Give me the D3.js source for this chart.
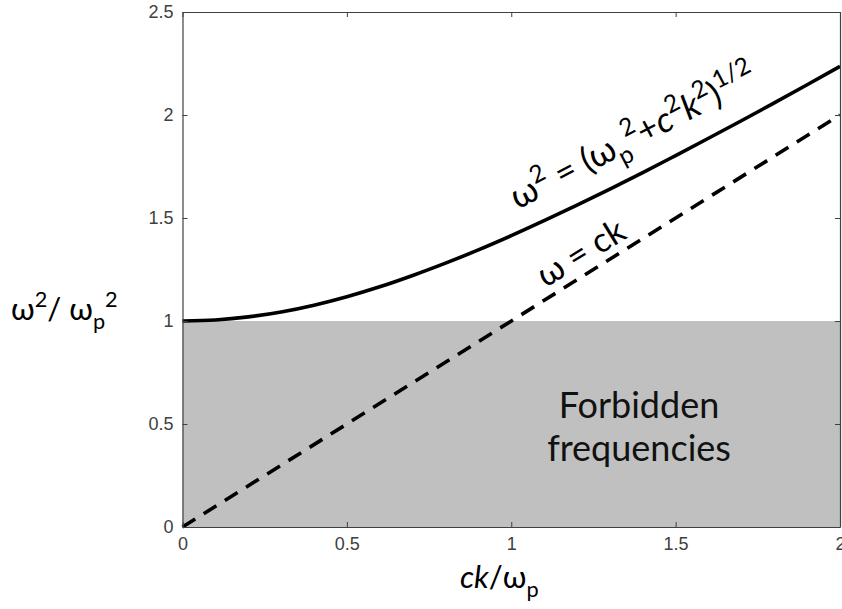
<!DOCTYPE html>
<html><head><meta charset="utf-8">
<script src="https://cdn.jsdelivr.net/npm/d3@7"></script>
<style>body{margin:0;background:#fff}svg{display:block}</style>
</head><body><svg id="c" width="842" height="609"></svg>
<script>
// data
const ckValues   = [0,0.1,0.2,0.3,0.4,0.5,0.6,0.7,0.8,0.9,1.0,1.1,1.2,1.3,1.4,1.5,1.6,1.7,1.8,1.9,2.0];
const omegaCurve = [1.00,1.005,1.02,1.044,1.077,1.118,1.166,1.221,1.281,1.345,1.414,1.487,1.562,1.640,1.720,1.803,1.887,1.972,2.059,2.147,2.236];
const lightLineX = [0,2];
const lightLineY = [0,2];
const forbiddenBand = [0,1];
const xTicks = [0,0.5,1,1.5,2];
const yTicks = [0,0.5,1,1.5,2,2.5];

const svg = d3.select('#c');
const L=182.5,R=840,T=12,B=527;
const x = d3.scaleLinear().domain([0,2]).range([L,R]);
const y = d3.scaleLinear().domain([0,2.5]).range([B,T]);
const fmt = d => String(d);

// forbidden band
svg.append('rect').attr('x',x(0)).attr('y',y(forbiddenBand[1]))
  .attr('width',x(2)-x(0)).attr('height',y(forbiddenBand[0])-y(forbiddenBand[1]))
  .attr('fill','#c0c0c0');

// lines
const line = d3.line().x(d=>x(d[0])).y(d=>y(d[1])).curve(d3.curveMonotoneX);
svg.append('path').datum(ckValues.map((v,i)=>[v,omegaCurve[i]]))
  .attr('d',line).attr('fill','none').attr('stroke','#000').attr('stroke-width',3.6);
svg.append('path').datum(lightLineX.map((v,i)=>[v,lightLineY[i]]))
  .attr('d',d3.line().x(d=>x(d[0])).y(d=>y(d[1])))
  .attr('fill','none').attr('stroke','#000').attr('stroke-width',3.6)
  .attr('stroke-dasharray','15,10');

// axes (MATLAB-like box with inward ticks)
const axColor='#404040';
const tickFamily = 'Liberation Sans, Arial, sans-serif';
const gB = svg.append('g').attr('transform',`translate(0,${B})`)
  .call(d3.axisBottom(x).tickValues(xTicks).tickFormat(fmt).tickSizeInner(-5).tickSizeOuter(0).tickPadding(10));
const gL = svg.append('g').attr('transform',`translate(${L},0)`)
  .call(d3.axisLeft(y).tickValues(yTicks).tickFormat(fmt).tickSizeInner(-5).tickSizeOuter(0).tickPadding(9));
const gT = svg.append('g').attr('transform',`translate(0,${T})`)
  .call(d3.axisTop(x).tickValues(xTicks).tickFormat('').tickSizeInner(-5).tickSizeOuter(0));
const gR = svg.append('g').attr('transform',`translate(${R},0)`)
  .call(d3.axisRight(y).tickValues(yTicks).tickFormat('').tickSizeInner(-5).tickSizeOuter(0));
[gB,gL,gT,gR].forEach(g=>{
  g.attr('font-size',null).attr('font-family',null);
  g.select('.domain').attr('stroke',axColor).attr('stroke-width',1.2);
  g.selectAll('.tick line').attr('stroke',axColor);
  g.selectAll('text').attr('fill',axColor).style('font-family',tickFamily).style('font-size','18px');
});

const F = 'Lato, "Open Sans", sans-serif';
function rich(parent, parts, size){
  const t = parent;
  let shift = 0;
  parts.forEach(p=>{
    const s = t.append('tspan').text(p.t);
    let target = 0, fs = size;
    if(p.sup){target=-0.42*size; fs=size*0.7;}
    if(p.sub){target=0.28*size; fs=size*0.7;}
    s.attr('dy', target-shift).style('font-size',fs+'px');
    if(p.i) s.style('font-style','italic');
    shift = target;
  });
}

// curve annotation
const a1 = svg.append('text').attr('transform',`translate(${x(1.02)},${y(1.54)}) rotate(-27.5)`)
  .style('font-family',F).attr('fill','#000');
rich(a1,[{t:'ω'},{t:'2',sup:1},{t:' = (ω'},{t:'p',sub:1},{t:'2',sup:1},{t:'+'},{t:'c',i:1},{t:'2',sup:1},{t:'k',i:1},{t:'2',sup:1},{t:')'},{t:'1/2',sup:1}],35);

const a2 = svg.append('text').attr('transform',`translate(${x(1.105)},${y(1.16)}) rotate(-31.5)`)
  .style('font-family',F).attr('fill','#000');
rich(a2,[{t:'ω = ck'}],34);

// forbidden label
svg.append('text').attr('x',639).attr('y',418).attr('text-anchor','middle')
  .style('font-family',F).style('font-size','36px').attr('fill','#111').text('Forbidden');
svg.append('text').attr('x',639).attr('y',461).attr('text-anchor','middle')
  .style('font-family',F).style('font-size','36px').attr('fill','#111').text('frequencies');

// axis labels
const yl = svg.append('text').attr('x',11).attr('y',320).style('font-family',F).attr('fill','#000');
rich(yl,[{t:'ω'},{t:'2',sup:1},{t:'/ ω'},{t:'p',sub:1},{t:'2',sup:1}],31);
const xl = svg.append('text').attr('x',460).attr('y',588).style('font-family',F).attr('fill','#000');
rich(xl,[{t:'ck',i:1},{t:'/ω'},{t:'p',sub:1}],31);
</script></body></html>
